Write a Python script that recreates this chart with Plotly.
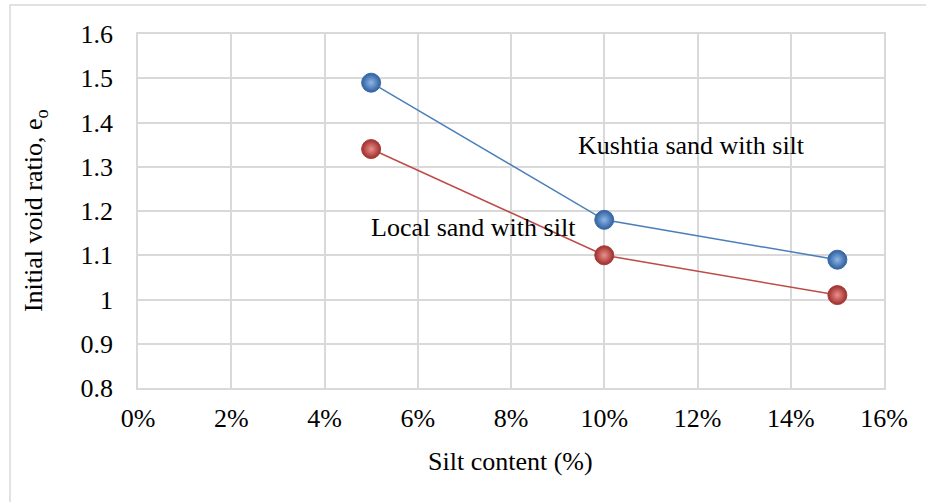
import plotly.graph_objects as go

silt = [5, 10, 15]
kushtia = [1.49, 1.18, 1.09]
local = [1.34, 1.10, 1.01]
x_ticks = [0, 2, 4, 6, 8, 10, 12, 14, 16]
x_tick_labels = [f"{v}%" for v in x_ticks]
y_ticks = [0.8, 0.9, 1.0, 1.1, 1.2, 1.3, 1.4, 1.5, 1.6]
y_tick_labels = ["0.8", "0.9", "1", "1.1", "1.2", "1.3", "1.4", "1.5", "1.6"]

font = "Liberation Serif, Times New Roman, serif"
FS = 26

fig = go.Figure()
fig.add_trace(go.Scatter(
    x=silt, y=kushtia, mode="lines+markers", name="Kushtia sand with silt",
    line=dict(color="#4a7ebb", width=1.5),
    marker=dict(size=19, color="#2e5f9e", line=dict(color="#3a6aa8", width=1),
                gradient=dict(type="radial", color="#8fb6e8")),
))
fig.add_trace(go.Scatter(
    x=silt, y=local, mode="lines+markers", name="Local sand with silt",
    line=dict(color="#be4b48", width=1.5),
    marker=dict(size=19, color="#9c2e2b", line=dict(color="#a83a37", width=1),
                gradient=dict(type="radial", color="#ec8f8c")),
))

fig.add_annotation(x=11.88, y=1.349, text="Kushtia sand with silt", showarrow=False,
                   font=dict(family=font, size=FS, color="black"))
fig.add_annotation(x=7.2, y=1.162, text="Local sand with silt", showarrow=False,
                   font=dict(family=font, size=FS, color="black"))

# axis titles
fig.add_annotation(xref="paper", yref="paper", x=-0.138, y=0.5,
                   xanchor="center", yanchor="middle",
                   text="Initial void ratio, e<sub>o</sub>", showarrow=False,
                   textangle=-90, font=dict(family=font, size=FS, color="black"))
fig.add_annotation(xref="paper", yref="paper", x=0.4987, y=-0.209,
                   xanchor="center", yanchor="middle",
                   text="Silt content (%)", showarrow=False,
                   font=dict(family=font, size=FS, color="black"))

# outer chart border
fig.add_shape(type="rect", xref="paper", yref="paper",
              x0=-0.1716, x1=1.07, y0=-0.36, y1=1.082,
              line=dict(color="#d9d9d9", width=1.5), layer="below")

fig.update_layout(
    width=926, height=502,
    margin=dict(l=138, r=42, t=34, b=114),
    paper_bgcolor="white", plot_bgcolor="white",
    showlegend=False,
    font=dict(family=font, size=FS, color="black"),
    xaxis=dict(range=[0, 16], tickvals=x_ticks, ticktext=x_tick_labels,
               showgrid=True, gridcolor="#d9d9d9", gridwidth=1.5,
               showline=True, linecolor="#d9d9d9", linewidth=1.5, mirror=True,
               zeroline=False, ticks="", ticklabelstandoff=6,
               tickfont=dict(size=FS)),
    yaxis=dict(range=[0.8, 1.6], tickvals=y_ticks, ticktext=y_tick_labels,
               showgrid=True, gridcolor="#d9d9d9", gridwidth=1.5,
               showline=True, linecolor="#d9d9d9", linewidth=1.5, mirror=True,
               zeroline=False, ticks="", ticklabelstandoff=18,
               tickfont=dict(size=FS)),
)

fig.write_html("out.html", config={"displayModeBar": False},
               post_script="document.body.style.margin='0px';")
